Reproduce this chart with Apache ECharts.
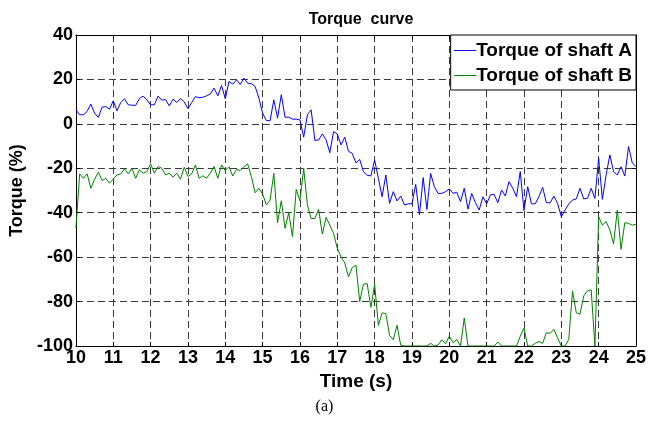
<!DOCTYPE html>
<html>
<head>
<meta charset="utf-8">
<script src="https://cdn.jsdelivr.net/npm/echarts@6/dist/echarts.min.js"></script>
<style>
html,body{margin:0;padding:0;background:#fff;}
#c{width:649px;height:425px;}
</style>
</head>
<body>
<div id="c"></div>
<script>
// sampling of the recorded signals
const timeStart = 10.0;
const timeStep = 0.1;
const xTicks = [10, 11, 12, 13, 14, 15, 16, 17, 18, 19, 20, 21, 22, 23, 24, 25];
const yTicks = [-100, -80, -60, -40, -20, 0, 20, 40];

// Torque of shaft A (%)
const shaftA = [
  6.3, 4.1, 4.1, 5.6, 8.9, 4.8, 2.9, 7.5, 7.8, 6.6, 10.4,
  5.9, 9.6, 11.3, 8.6, 8.4, 8.3, 11.4, 12.5, 10.8, 8.6,
  8.6, 12.5, 10.7, 10.9, 8.1, 11.1, 9.6, 11.4, 9.9, 6.8,
  9.6, 12.3, 11.7, 12.0, 12.6, 13.5, 16.1, 12.6, 17.3, 11.3,
  19.1, 17.9, 19.8, 17.7, 20.6, 18.3, 18.1, 16.8, 11.6, 4.8,
  1.5, 1.4, 10.8, 2.6, 13.1, 3.0, 3.0, 2.1, 2.1, 1.8,
  -6.0, 4.1, 6.3, -7.4, -7.3, -4.5, -7.2, -13.0, -3.5, -4.6,
  -9.5, -6.0, -12.3, -13.3, -17.6, -16.0, -21.5, -23.2, -23.4, -16.3,
  -24.5, -32.8, -23.0, -35.8, -30.5, -34.7, -32.5, -36.5, -36.0, -36.0,
  -27.2, -41.0, -24.2, -38.5, -22.3, -28.3, -31.3, -31.3, -30.5, -29.3,
  -31.3, -30.8, -35.0, -29.0, -38.4, -31.3, -35.5, -38.8, -32.8, -36.0,
  -32.0, -31.7, -35.5, -29.8, -32.5, -26.0, -29.0, -32.8, -21.5, -39.0,
  -28.3, -36.0, -36.0, -32.8, -28.6, -35.5, -35.5, -32.5, -35.8, -41.8,
  -38.8, -36.0, -34.3, -33.8, -29.0, -33.8, -33.5, -29.0, -33.5, -15.5,
  -34.0, -23.0, -14.0, -21.5, -23.0, -19.3, -23.5, -10.2, -17.5, -19.3
];

// Torque of shaft B (%)
const shaftB = [
  -47.0, -22.5, -24.5, -22.5, -29.0, -24.9, -21.8, -25.5, -24.5, -26.7, -24.9,
  -23.0, -22.5, -20.3, -22.5, -20.0, -24.5, -20.7, -22.2, -21.5, -18.0,
  -22.2, -19.2, -20.0, -23.0, -22.2, -24.0, -22.2, -24.9, -19.5, -23.7,
  -22.5, -18.5, -24.5, -23.4, -24.5, -22.2, -19.2, -24.5, -18.5, -21.0,
  -19.3, -23.5, -20.5, -21.0, -19.3, -18.0, -23.8, -31.0, -29.0, -31.6,
  -36.5, -34.3, -22.3, -44.5, -34.6, -47.0, -40.0, -50.8, -29.5, -34.6,
  -20.0, -36.5, -42.6, -42.6, -38.5, -49.6, -42.1, -45.6, -49.3, -56.0,
  -59.9, -62.6, -68.9, -64.7, -63.6, -80.0, -72.2, -71.9, -82.6, -72.2,
  -90.7, -85.1, -85.4, -95.2, -97.2, -90.7, -99.7, -100, -100, -100,
  -100, -100, -100, -100, -98.8, -100, -99.5, -97.2, -99.0, -95.6,
  -98.5, -97.0, -100, -87.4, -100, -100, -100, -100, -100, -100,
  -100, -100, -98.2, -100, -100, -100, -100, -100, -95.6, -91.9,
  -100, -100, -98.8, -98.0, -98.8, -94.0, -94.3, -92.5, -96.3, -100,
  -100, -97.0, -75.2, -85.0, -85.7, -77.5, -75.2, -74.7, -100, -41.8,
  -45.6, -44.0, -47.8, -54.0, -38.8, -56.5, -44.5, -44.8, -45.6, -45.3
];

function pairs(vals) {
  return vals.map((v, i) => [+(timeStart + i * timeStep).toFixed(2), v]);
}

const FONT = '"Liberation Sans", Arial, Helvetica, sans-serif';
const chart = echarts.init(document.getElementById('c'), null, {renderer: 'canvas'});

const gridLine = {show: true, lineStyle: {color: '#3a3a3a', type: [7, 4], width: 1}};
const axisLineBlack = {show: true, onZero: false, lineStyle: {color: '#000', width: 1}};

chart.setOption({
  animation: false,
  backgroundColor: '#fff',
  title: {
    text: 'Torque  curve',
    left: 356,
    top: 7,
    textAlign: 'center',
    textStyle: {fontFamily: FONT, fontWeight: 'bold', fontSize: 16, color: '#000'}
  },
  legend: {
    orient: 'vertical',
    right: 13,
    top: 35,
    itemWidth: 22,
    itemHeight: 10,
    itemGap: 4,
    padding: [5, 4, 4, 3],
    borderColor: '#000',
    borderWidth: 1,
    borderRadius: 0,
    backgroundColor: '#fff',
    itemStyle: {color: 'rgba(0,0,0,0)', borderWidth: 0, opacity: 0},
    lineStyle: {width: 1},
    textStyle: {fontFamily: FONT, fontWeight: 'bold', fontSize: 19, lineHeight: 21, color: '#000', padding: [0, 0, 0, -5]},
    data: ['Torque of shaft A', 'Torque of shaft B']
  },
  grid: {left: 74, right: 13, top: 35, bottom: 79, containLabel: false},
  xAxis: [{
    type: 'value',
    min: 10, max: 25, interval: 1,
    name: 'Time (s)',
    nameLocation: 'middle',
    nameGap: 26,
    nameTextStyle: {fontFamily: FONT, fontWeight: 'bold', fontSize: 19, color: '#000'},
    axisLine: axisLineBlack,
    axisTick: {show: true, inside: true, length: 4, lineStyle: {color: '#000'}},
    axisLabel: {
      fontFamily: FONT, fontWeight: 'bold', fontSize: 18, color: '#000', margin: 3,
      customValues: xTicks
    },
    splitLine: gridLine
  }, {
    type: 'value', position: 'top',
    min: 10, max: 25, interval: 1,
    axisLine: axisLineBlack,
    axisTick: {show: true, inside: true, length: 4, lineStyle: {color: '#000'}},
    axisLabel: {show: false},
    splitLine: {show: false}
  }],
  yAxis: [{
    type: 'value',
    min: -100, max: 40, interval: 20,
    name: 'Torque (%)',
    nameLocation: 'middle',
    nameGap: 49,
    nameRotate: 90,
    nameTextStyle: {fontFamily: FONT, fontWeight: 'bold', fontSize: 18, color: '#000'},
    axisLine: axisLineBlack,
    axisTick: {show: true, inside: true, length: 4, lineStyle: {color: '#000'}},
    axisLabel: {fontFamily: FONT, fontWeight: 'bold', fontSize: 18, color: '#000', margin: 3,
      customValues: yTicks},
    splitLine: gridLine
  }, {
    type: 'value', position: 'right',
    min: -100, max: 40, interval: 20,
    axisLine: axisLineBlack,
    axisTick: {show: true, inside: true, length: 4, lineStyle: {color: '#000'}},
    axisLabel: {show: false},
    splitLine: {show: false}
  }],
  series: [{
    name: 'Torque of shaft A',
    type: 'line',
    xAxisIndex: 0, yAxisIndex: 0,
    data: pairs(shaftA),
    symbol: 'none',
    lineStyle: {color: '#0000ff', width: 1},
    itemStyle: {color: '#0000ff'},
    z: 3
  }, {
    name: 'Torque of shaft B',
    type: 'line',
    xAxisIndex: 0, yAxisIndex: 0,
    data: pairs(shaftB),
    symbol: 'none',
    lineStyle: {color: '#008000', width: 1},
    itemStyle: {color: '#008000'},
    z: 3
  }],
  graphic: [{
    type: 'text',
    left: 'center',
    top: 399,
    style: {text: '(a)', fontFamily: '"Liberation Serif", "Times New Roman", serif', fontSize: 16, fill: '#000'}
  }]
});
</script>
</body>
</html>
